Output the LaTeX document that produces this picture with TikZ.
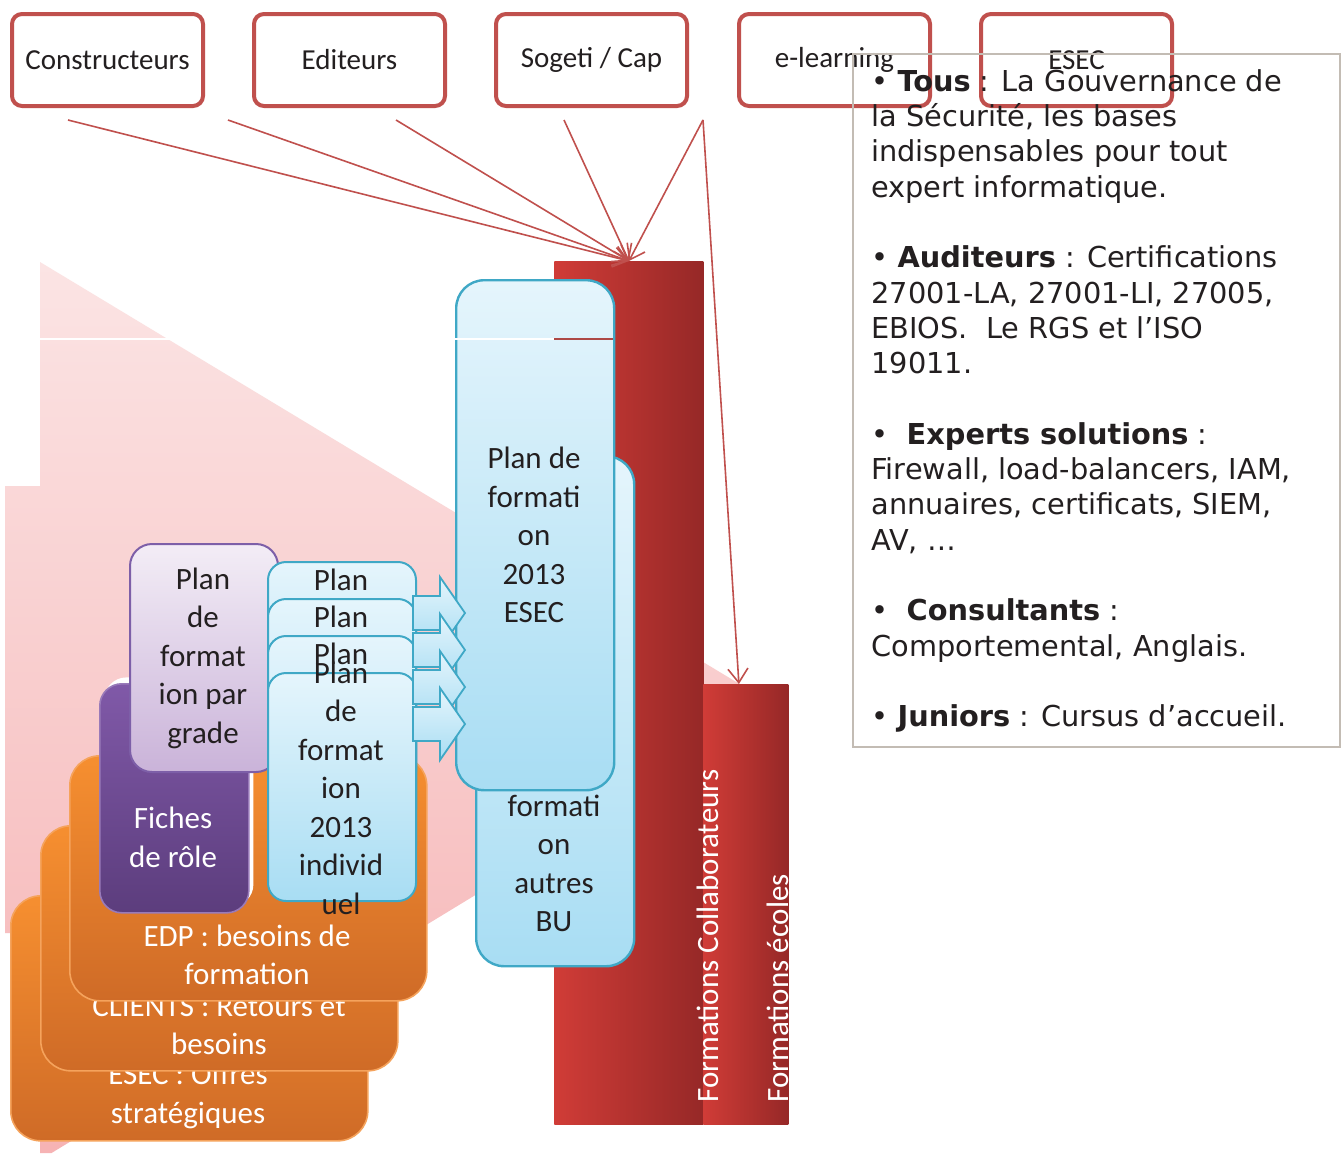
\documentclass[tikz,border=0pt]{standalone}
\usepackage{fontspec}
\setmainfont{Carlito}
\newfontfamily\verd{DejaVu Sans}
\usetikzlibrary{arrows.meta}
\definecolor{boxred}{HTML}{C0504D}
\definecolor{barL}{HTML}{D03C37}
\definecolor{barR}{HTML}{962827}
\definecolor{pinkT}{HTML}{FBE4E4}
\definecolor{pinkB}{HTML}{F6B3B4}
\definecolor{orT}{HTML}{F68F30}
\definecolor{orB}{HTML}{CF6B27}
\definecolor{orE}{HTML}{F5A35C}
\definecolor{puT}{HTML}{8059A8}
\definecolor{puB}{HTML}{5C3D7D}
\definecolor{laT}{HTML}{F3EDF6}
\definecolor{laB}{HTML}{CAB3D9}
\definecolor{laE}{HTML}{7D5FA8}
\definecolor{blT}{HTML}{E5F5FC}
\definecolor{blB}{HTML}{A8DDF3}
\definecolor{blE}{HTML}{3FA8C6}
\definecolor{txt}{HTML}{231F20}
\definecolor{gbox}{HTML}{C3BCB4}
\begin{document}
\begin{tikzpicture}[x=0.5pt,y=-0.5pt,
 topbox/.style={draw=boxred, line width=2pt, rounded corners=5pt, minimum width=95.5pt, minimum height=46pt, inner sep=0pt, font=\fontsize{14.5}{17}\selectfont, text=txt},
 conn/.style={draw=boxred, line width=0.8pt, -{Straight Barb[length=7pt,width=10pt]}},
 redbar/.style={anchor=north west, inner sep=0pt, left color=barL, right color=barR, draw=none},
 obox/.style={anchor=north west, inner sep=0pt, minimum width=178.5pt, minimum height=122.5pt, rounded corners=15pt, top color=orT, bottom color=orB, draw=orE, line width=0.8pt},
 wlbl/.style={text=white, align=center, inner sep=0pt, font=\fontsize{15.5}{19.25}\selectfont},
 dlbl/.style={text=txt, align=center, inner sep=0pt, font=\fontsize{15.5}{19.25}\selectfont},
 sbox/.style={anchor=north west, inner sep=0pt, minimum width=74pt, minimum height=114pt, rounded corners=9pt, top color=blT, bottom color=blB, draw=blE, line width=1pt},
 bbox/.style={anchor=north west, inner sep=0pt, minimum width=79pt, minimum height=255pt, rounded corners=14pt, top color=blT, bottom color=blB, draw=blE, line width=1.2pt},
 barrow/.style={top color=blT, bottom color=blB, draw=blE, line width=0.9pt}
]
\useasboundingbox (0,0) rectangle (1342,1153);
\fill[white] (0,0) rectangle (1342,1153);

% pink background arrow
\path[top color=pinkT, bottom color=pinkB] (5,486) -- (40,486) -- (40,262) -- (781,709) -- (51.5,1153) -- (40,1153) -- (40,933) -- (5,933) -- cycle;

% red bars
\node[redbar, minimum width=74.5pt, minimum height=431.5pt] (barA) at (554,261) {};
\node[redbar, minimum width=42.5pt, minimum height=220pt] (barB) at (703,684) {};
\node[rotate=90, anchor=west, inner sep=0pt, text=white, font=\fontsize{15.5}{19}\selectfont] (labA) at (708,1103) {Formations Collaborateurs};
\node[rotate=90, anchor=west, inner sep=0pt, text=white, font=\fontsize{15.5}{19}\selectfont] (labB) at (778,1103) {Formations écoles};

% top boxes
\node[topbox] (cons) at (107.5,60) {Constructeurs};
\node[topbox] (edit) at (349.5,60) {Editeurs};
\node[topbox] (sog) at (591.5,60) {Sogeti / Cap};
\node[topbox] (elearn) at (834.5,60) {e-learning};
\node[topbox] (esectop) at (1076.5,60) {ESEC};

% connectors
\coordinate (s1) at (68,120);
\coordinate (s2) at (228,120);
\coordinate (s3) at (396,120);
\coordinate (s4) at (564,120);
\coordinate (s5) at (703,120);
\draw[conn] (s1) -- (barA.north);
\draw[conn] (s2) -- (barA.north);
\draw[conn] (s3) -- (barA.north);
\draw[conn] (s4) -- (barA.north);
\draw[conn] (s5) -- (barA.north);
\draw[conn] (s5) -- ([xshift=-3.5pt]barB.north);

% orange stacked boxes
\node[obox] (oesec) at (10,895) {};
\node[wlbl] (toesec) at (188,1096) {ESEC : Offres\\stratégiques};
\node[obox] (oclient) at (40,825) {};
\node[wlbl] (toclient) at (219,1025.5) {CLIENTS : Retours et\\besoins};
\node[obox] (oedp) at (69,755) {};
\node[wlbl] (toedp) at (247,955) {EDP : besoins de\\formation};

% purple boxes
\node[anchor=north west, inner sep=0pt, fill=white, rounded corners=11pt, minimum width=74.5pt, minimum height=114.5pt] (halo) at (104,677) {};
\node[anchor=north west, inner sep=0pt, top color=puT, bottom color=puB, draw=puT!80!white, line width=0.8pt, rounded corners=11pt, minimum width=74.5pt, minimum height=114.5pt] (fiches) at (99,683) {};
\node[wlbl] (tfiches) at (173,837.5) {Fiches\\de rôle};
\node[anchor=north west, inner sep=0pt, top color=laT, bottom color=laB, draw=laE, line width=1pt, rounded corners=11pt, minimum width=74pt, minimum height=114pt, dlbl] (grade) at (129,543) {};
\node[dlbl] (tgrade) at (203,658) {Plan\\de\\format\\ion par\\grade};

% small blue boxes
\node[sbox] (p1) at (267,561) {};
\node[dlbl] (tp1) at (341,580) {Plan};
\node[sbox] (p2) at (267,598) {};
\node[dlbl] (tp2) at (341,617) {Plan};
\node[sbox] (p3) at (267,635) {};
\node[dlbl] (tp3) at (341,654) {Plan};
\node[sbox] (p4) at (267,672) {};
\node[dlbl] (tp4) at (341,788) {Plan\\de\\format\\ion\\2013\\individ\\uel};

% big blue boxes
\node[bbox] (bu) at (475,455) {};
\node[dlbl] (tbu) at (554,844) {Plan de\\formati\\on\\autres\\BU};
\node[bbox] (esecplan) at (455,279) {};
\node[dlbl] (tesecplan) at (534,535) {Plan de\\formati\\on\\2013\\ESEC};

% block arrows
\foreach \k in {0,1,2,3}{
  \pgfmathsetmacro\yc{613+37*\k}
  \path[barrow] (413,\yc-17) -- (440,\yc-17) -- (440,\yc-36) -- (465,\yc) -- (440,\yc+36) -- (440,\yc+17) -- (413,\yc+17) -- cycle;
}

% artefact line
\draw[white, line width=0.6pt] (40,339) -- (554,339);
\draw[boxred!90!black, line width=0.6pt] (554,339) -- (613,339);

% info box
\node[draw=gbox, line width=1pt, anchor=north west, inner sep=0pt, minimum width=243.5pt, minimum height=346.5pt] (infobox) at (852,53) {};
\node[anchor=north west, align=left, inner sep=0pt, font=\verd\fontsize{14.4}{17.65}\selectfont, text=txt] (info) at (871,69) {%
• \textbf{Tous} : La Gouvernance de\\
la Sécurité, les bases\\
indispensables pour tout\\
expert informatique.\\[17.65pt]
• \textbf{Auditeurs} : Certifications\\
27001-LA, 27001-LI, 27005,\\
EBIOS.\ \ Le RGS et l’ISO\\
19011.\\[17.65pt]
•\ \ \textbf{Experts solutions} :\\
Firewall, load-balancers, IAM,\\
annuaires, certificats, SIEM,\\
AV, …\\[17.65pt]
•\ \ \textbf{Consultants} :\\
Comportemental, Anglais.\\[17.65pt]
• \textbf{Juniors} : Cursus d’accueil.};
\end{tikzpicture}
\end{document}
